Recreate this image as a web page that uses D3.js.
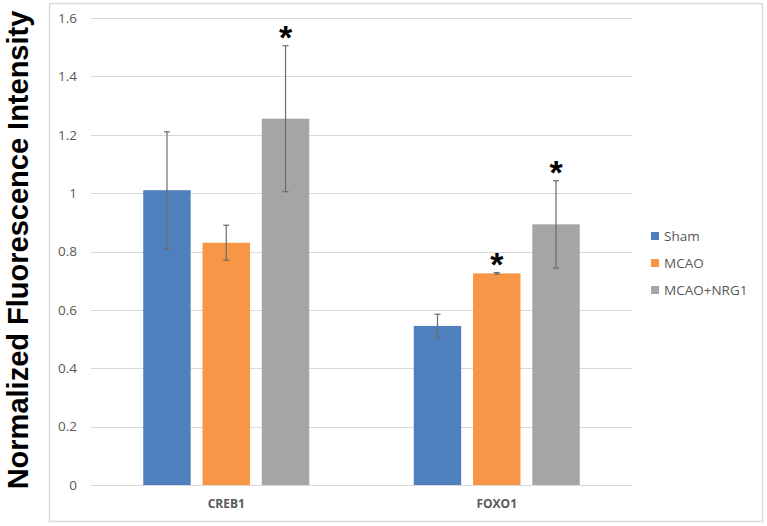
<!DOCTYPE html>
<html>
<head>
<meta charset="utf-8">
<script src="https://cdn.jsdelivr.net/npm/d3@7"></script>
<style>
  body { margin: 0; background: #fff; }
  svg { display: block; }
</style>
</head>
<body>
<div id="chart"></div>
<script>
// chart data
var categories = ["CREB1", "FOXO1"];
var groups = ["Sham", "MCAO", "MCAO+NRG1"];
var colors = ["#4f7fbd", "#f79646", "#a5a5a5"];
var shamValues = [1.01, 0.545];
var mcaoValues = [0.83, 0.725];
var nrg1Values = [1.255, 0.893];
var shamErrors = [0.2, 0.04];
var mcaoErrors = [0.06, 0.003];
var nrg1Errors = [0.25, 0.15];
var shamStars = [false, false];
var mcaoStars = [false, true];
var nrg1Stars = [true, true];
var yTicks = [0, 0.2, 0.4, 0.6, 0.8, 1, 1.2, 1.4, 1.6];

var w = 767, h = 526;
var plotLeft = 91, plotRight = 632, plotTop = 18, plotBottom = 485;
var groupWidth = 166;

var svg = d3.select("#chart").append("svg")
    .attr("width", w)
    .attr("height", h);

// outer chart border
svg.append("rect")
    .attr("x", 49.5).attr("y", 3.5)
    .attr("width", 713).attr("height", 518)
    .attr("fill", "none")
    .attr("stroke", "#d9d9d9")
    .attr("stroke-width", 1.5);

var x0 = d3.scaleBand().domain(categories).range([plotLeft, plotRight]);
var x1 = d3.scaleBand().domain(groups)
    .range([0, groupWidth])
    .paddingInner(0.2);
var yScale = d3.scaleLinear().domain([0, 1.6]).range([plotBottom, plotTop]);

// gridlines
svg.append("g").selectAll("line")
    .data(yTicks)
    .join("line")
    .attr("x1", plotLeft).attr("x2", plotRight)
    .attr("y1", d => Math.round(yScale(d)) + 0.5)
    .attr("y2", d => Math.round(yScale(d)) + 0.5)
    .attr("stroke", "#d9d9d9")
    .attr("stroke-width", 1.2);

// y axis labels
var yAxis = svg.append("g")
    .attr("transform", "translate(" + (plotLeft - 8) + ",0)")
    .call(d3.axisLeft(yScale).tickValues(yTicks).tickSize(0).tickPadding(6).tickFormat(d3.format("")));
yAxis.select(".domain").remove();
yAxis.selectAll("text")
    .attr("font-family", "Open Sans, sans-serif")
    .attr("font-size", 13.5)
    .attr("fill", "#595959");

// x axis labels
var xAxis = svg.append("g")
    .attr("transform", "translate(0," + plotBottom + ")")
    .call(d3.axisBottom(x0).tickSize(0).tickPadding(14));
xAxis.select(".domain").remove();
xAxis.selectAll("text")
    .attr("font-family", "Open Sans, sans-serif")
    .attr("font-size", 12)
    .attr("font-weight", "bold")
    .attr("fill", "#595959");

// build rows for the bars
var series = [
    { name: groups[0], values: shamValues, errors: shamErrors, stars: shamStars, color: colors[0] },
    { name: groups[1], values: mcaoValues, errors: mcaoErrors, stars: mcaoStars, color: colors[1] },
    { name: groups[2], values: nrg1Values, errors: nrg1Errors, stars: nrg1Stars, color: colors[2] }
];
var rows = [];
categories.forEach(function(c, i) {
    series.forEach(function(s) {
        rows.push({ cat: c, group: s.name, value: s.values[i], err: s.errors[i], star: s.stars[i], color: s.color });
    });
});

function barX(d) {
    return x0(d.cat) + (x0.bandwidth() - groupWidth) / 2 + x1(d.group);
}
function barMid(d) {
    return barX(d) + x1.bandwidth() / 2;
}

// bars
svg.append("g").selectAll("rect")
    .data(rows)
    .join("rect")
    .attr("x", barX)
    .attr("y", d => yScale(d.value))
    .attr("width", x1.bandwidth())
    .attr("height", d => yScale(0) - yScale(d.value))
    .attr("fill", d => d.color);

// error bars
var eb = svg.append("g").selectAll("g")
    .data(rows)
    .join("g")
    .attr("stroke", "#6b6b6b")
    .attr("stroke-width", 1.2);
eb.append("line")
    .attr("x1", barMid).attr("x2", barMid)
    .attr("y1", d => yScale(d.value + d.err))
    .attr("y2", d => yScale(d.value - d.err));
eb.append("line")
    .attr("x1", d => barMid(d) - 3).attr("x2", d => barMid(d) + 3)
    .attr("y1", d => yScale(d.value + d.err))
    .attr("y2", d => yScale(d.value + d.err));
eb.append("line")
    .attr("x1", d => barMid(d) - 3).attr("x2", d => barMid(d) + 3)
    .attr("y1", d => yScale(d.value - d.err))
    .attr("y2", d => yScale(d.value - d.err));

// significance stars
svg.append("g").selectAll("text")
    .data(rows.filter(d => d.star))
    .join("text")
    .attr("x", barMid)
    .attr("y", d => yScale(d.value + d.err) + 3)
    .attr("text-anchor", "middle")
    .attr("font-family", "Liberation Sans, Arial, sans-serif")
    .attr("font-weight", "bold")
    .attr("font-size", 34)
    .attr("fill", "#000")
    .text("*");

// y axis title
svg.append("text")
    .attr("transform", "translate(28,250) rotate(-90)")
    .attr("text-anchor", "middle")
    .attr("font-family", "Liberation Sans, Arial, sans-serif")
    .attr("font-weight", "bold")
    .attr("font-size", 29)
    .attr("fill", "#000")
    .text("Normalized Fluorescence Intensity");

// legend
var legend = svg.append("g").selectAll("g")
    .data(groups)
    .join("g")
    .attr("transform", (d, i) => "translate(651," + (236 + i * 27) + ")");
legend.append("rect")
    .attr("x", 0).attr("y", -4)
    .attr("width", 8).attr("height", 8)
    .attr("fill", (d, i) => colors[i]);
legend.append("text")
    .attr("x", 13)
    .attr("dy", "0.35em")
    .attr("font-family", "Open Sans, sans-serif")
    .attr("font-size", 13.5)
    .attr("fill", "#595959")
    .text(d => d);
</script>
</body>
</html>
